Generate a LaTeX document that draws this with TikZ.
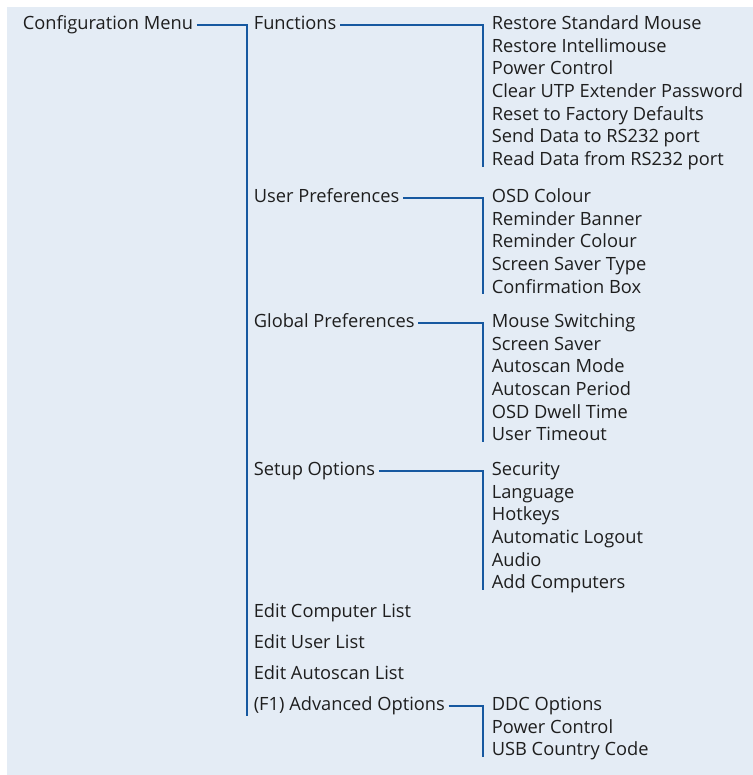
\documentclass[tikz,border=0pt]{standalone}
\usepackage{fontspec}
\setmainfont{Open Sans}
\usetikzlibrary{calc}

\definecolor{menubg}{RGB}{228,236,245}
\definecolor{menuline}{RGB}{22,88,160}
\definecolor{menutext}{RGB}{30,30,30}

\tikzset{every picture/.style={line width=0.75pt}}
\tikzset{
  entry/.style={anchor=west, inner xsep=2.5pt, inner ysep=0.5pt,
    text height=0.714em, text depth=0pt, text=menutext,
    font=\fontsize{13.7}{17}\selectfont},
  branch/.style={draw=menuline, line width=1.5pt},
}

\begin{document}
\begin{tikzpicture}[x=0.75pt,y=0.75pt,yscale=-1,xscale=1]
\useasboundingbox (0,0) rectangle (753,775);

%Shape: Rectangle [background]
\fill[menubg] (7,7) rectangle (753,775);

% Root
\node[entry] (cfg) at (19,25) {Configuration Menu};

% Second level
\node[entry] (fn)  at (250,25)  {Functions};
\node[entry] (usr) at (250,198) {User Preferences};
\node[entry] (glb) at (250,323) {Global Preferences};
\node[entry] (set) at (250,471) {Setup Options};
\node[entry] (ecl) at (250,613) {Edit Computer List};
\node[entry] (eul) at (250,644) {Edit User List};
\node[entry] (eal) at (250,675) {Edit Autoscan List};
\node[entry] (adv) at (250,706) {(F1) Advanced Options};

% Third level
\foreach \txt [count=\i from 0] in {Restore Standard Mouse, Restore Intellimouse, Power Control, Clear UTP Extender Password, Reset to Factory Defaults, Send Data to RS232 port, Read Data from RS232 port}
  \node[entry] (fn\i) at (488,25+22.6*\i) {\txt};

\foreach \txt [count=\i from 0] in {OSD Colour, Reminder Banner, Reminder Colour, Screen Saver Type, Confirmation Box}
  \node[entry] (usr\i) at (488,198+22.6*\i) {\txt};

\foreach \txt [count=\i from 0] in {Mouse Switching, Screen Saver, Autoscan Mode, Autoscan Period, OSD Dwell Time, User Timeout}
  \node[entry] (glb\i) at (488,323+22.6*\i) {\txt};

\foreach \txt [count=\i from 0] in {Security, Language, Hotkeys, Automatic Logout, Audio, Add Computers}
  \node[entry] (set\i) at (488,471+22.6*\i) {\txt};

\foreach \txt [count=\i from 0] in {DDC Options, Power Control, USB Country Code}
  \node[entry] (adv\i) at (488,706+22.6*\i) {\txt};

% Connectors
\draw[branch] (cfg.east) -| ($(adv.south west)+(-3.3,4)$);
\draw[branch] (fn.east)  -| ([xshift=-3.5pt]fn6.south west);
\draw[branch] (usr.east) -| ([xshift=-3.5pt]usr4.south west);
\draw[branch] (glb.east) -| ([xshift=-3.5pt]glb5.south west);
\draw[branch] (set.east) -| ([xshift=-3.5pt]set5.south west);
\draw[branch] (adv.east) -| ([xshift=-3.5pt]adv2.south west);

\end{tikzpicture}
\end{document}
